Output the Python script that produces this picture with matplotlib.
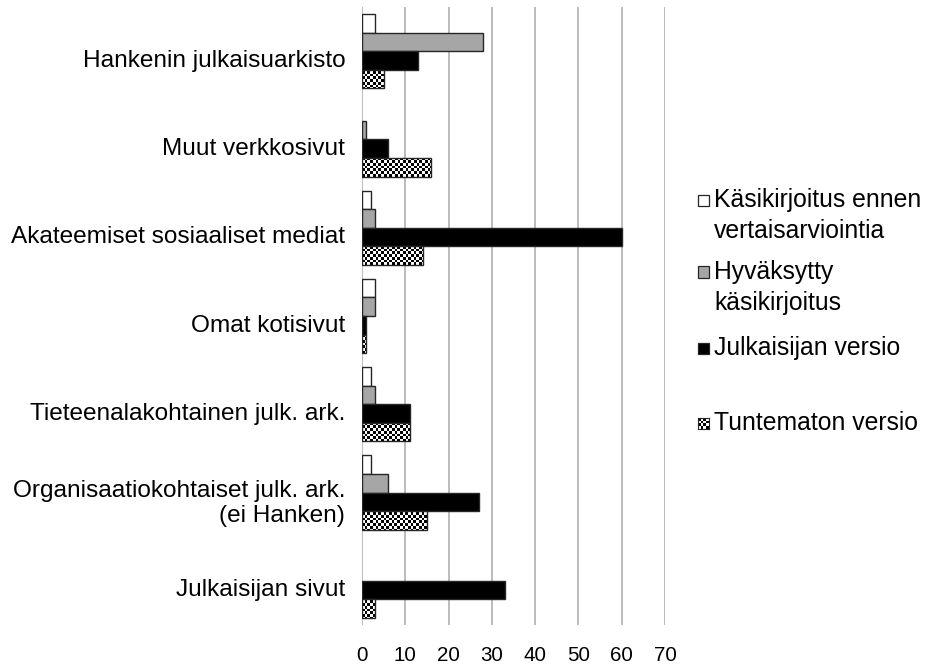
import matplotlib
matplotlib.use("Agg")
import matplotlib.pyplot as plt
import numpy as np
from matplotlib.patches import Rectangle
from matplotlib.transforms import ScaledTranslation

plt.rcParams['font.family'] = ['Liberation Sans', 'DejaVu Sans']

categories = ["Hankenin julkaisuarkisto", "Muut verkkosivut", "Akateemiset sosiaaliset mediat",
              "Omat kotisivut", "Tieteenalakohtainen julk. ark.",
              "Organisaatiokohtaiset julk. ark.\n(ei Hanken)", "Julkaisijan sivut"]
series_names = ["Käsikirjoitus ennen\nvertaisarviointia", "Hyväksytty\nkäsikirjoitus",
                "Julkaisijan versio", "Tuntematon versio"]
kasikirjoitus_ennen = [3, 0, 2, 3, 2, 2, 0]
hyvaksytty = [28, 1, 3, 3, 3, 6, 0]
julkaisijan_versio = [13, 6, 60, 1, 11, 27, 33]
tuntematon = [5, 16, 14, 1, 11, 15, 3]
xticks = [0, 10, 20, 30, 40, 50, 60, 70]

series = [kasikirjoitus_ennen, hyvaksytty, julkaisijan_versio, tuntematon]
fills = ["white", "#a6a6a6", "black", "checker"]
edge = "#262626"

W, H = 926, 668
fig = plt.figure(figsize=(W/100, H/100), dpi=100)
ax = fig.add_axes([362/W, 1-625/H, 303/W, 618/H])

n = len(categories)
y = np.arange(n)
h = 0.21
offs = (np.arange(4) - 1.5) * h

# checkerboard texture
nx, ny = 112, 230
cb = (np.add.outer(np.arange(ny), np.arange(nx)) % 2).astype(float)

for k, (vals, fc) in enumerate(zip(series, fills)):
    if fc == "checker":
        bars = ax.barh(y + offs[k], vals, height=h, facecolor="none",
                       edgecolor=edge, linewidth=1.0, zorder=4)
        for b in bars:
            im = ax.imshow(cb, cmap="gray", extent=(0, 70, n - 0.5, -0.5),
                           interpolation="nearest", aspect="auto", zorder=3)
            im.set_clip_path(b)
    else:
        bars = ax.barh(y + offs[k], vals, height=h, facecolor=fc,
                       edgecolor=edge, linewidth=1.0, zorder=3)
    for b, v in zip(bars, vals):
        if v == 0:
            b.set_visible(False)

ax.set_xlim(0, 70)
ax.set_ylim(n - 0.5, -0.5)
ax.set_xticks(xticks)
ax.set_xticklabels([str(t) for t in xticks], fontsize=14.8)
ax.set_yticks(y)
ax.set_yticklabels(categories, fontsize=17.6, multialignment='right')
ax.tick_params(axis='both', length=0)
ax.tick_params(axis='x', pad=15)
ax.tick_params(axis='y', pad=12)
ax.grid(axis='x', color='#b0b0b0', linewidth=1.2, zorder=0)
ax.set_axisbelow(True)
for s in ax.spines.values():
    s.set_visible(False)
shift = ScaledTranslation(0, -0.07, fig.dpi_scale_trans)
for lab in ax.get_yticklabels():
    lab.set_transform(lab.get_transform() + shift)

# legend (manual)
leg_y = [200, 272, 348, 423]
line_gap = 31
mx, msz = 698, 11
for name, fc, yy in zip(series_names, fills, leg_y):
    x0 = mx / W
    y0 = 1 - (yy + msz/2) / H
    if fc == "checker":
        lax = fig.add_axes([x0, y0, msz/W, msz/H])
        lax.imshow((np.add.outer(np.arange(4), np.arange(4)) % 2).astype(float),
                   cmap="gray", interpolation="nearest", aspect="auto")
        lax.set_xticks([]); lax.set_yticks([])
        for s in lax.spines.values():
            s.set_color(edge); s.set_linewidth(0.8)
    else:
        r = Rectangle((x0, y0), msz/W, msz/H, transform=fig.transFigure, facecolor=fc,
                      edgecolor=edge, linewidth=0.9)
        fig.patches.append(r)
    for j, line in enumerate(name.split("\n")):
        fig.text(714/W, 1 - (yy + j*line_gap)/H, line, fontsize=17.8,
                 va='center', ha='left')

fig.savefig("out.png", dpi=100)
